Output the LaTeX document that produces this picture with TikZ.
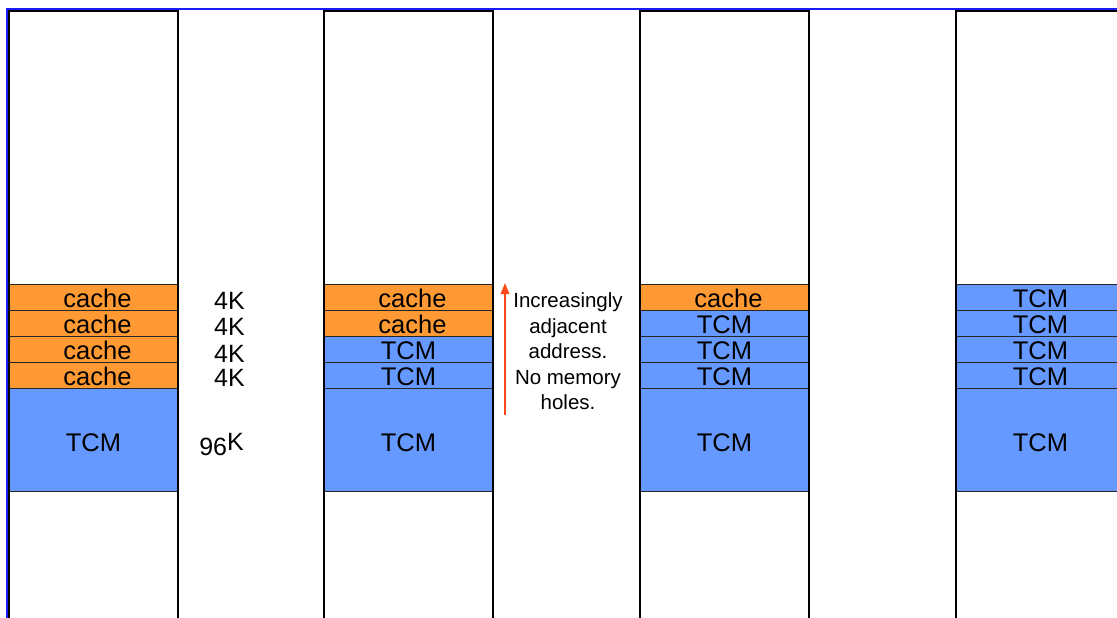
\documentclass[tikz,border=0pt]{standalone}
\usepackage{fontspec}
\setmainfont{Liberation Sans}
\usetikzlibrary{arrows.meta,calc}
\definecolor{cacheorange}{HTML}{FF9933}
\definecolor{tcmblue}{HTML}{6699FF}
\definecolor{frameblue}{HTML}{1A1AFF}
\definecolor{arrowred}{HTML}{FF4A1A}
\tikzset{
  rowbox/.style={draw=black!85, line width=0.9pt, minimum width=169pt, minimum height=26pt, inner sep=0pt, outer sep=0pt, anchor=north west},
  bigbox/.style={rowbox, minimum height=103pt},
  cachebox/.style={rowbox, fill=cacheorange},
  tcmbox/.style={rowbox, fill=tcmblue},
  tcmbig/.style={bigbox, fill=tcmblue},
  lbl/.style={inner sep=0pt, anchor=base, font=\fontsize{25.5}{30}\selectfont},
  sizelbl/.style={inner sep=0pt, anchor=base east, font=\fontsize{25}{28}\selectfont},
  colline/.style={draw=black, line width=2pt},
  noteline/.style={inner sep=0pt, align=center, font=\fontsize{20.5}{25.5}\selectfont},
}
\begin{document}
\begin{tikzpicture}[x=1pt,y=-1pt]
\useasboundingbox (0,0) rectangle (1117,618);
\clip (0,0) rectangle (1117,618);
\fill[white] (0,0) rectangle (1117,618);
% blue frame
\draw[frameblue, line width=2pt] (7,640) -- (7,9.5) -- (1130,9.5);
% column 1
\node[cachebox] (a1) at (9,284) {};
\node[cachebox] (a2) at (9,310) {};
\node[cachebox] (a3) at (9,336) {};
\node[cachebox] (a4) at (9,362) {};
\node[tcmbig]   (a5) at (9,388) {};
% column 2
\node[cachebox] (b1) at (324,284) {};
\node[cachebox] (b2) at (324,310) {};
\node[tcmbox]   (b3) at (324,336) {};
\node[tcmbox]   (b4) at (324,362) {};
\node[tcmbig]   (b5) at (324,388) {};
% column 3
\node[cachebox] (c1) at (640,284) {};
\node[tcmbox]   (c2) at (640,310) {};
\node[tcmbox]   (c3) at (640,336) {};
\node[tcmbox]   (c4) at (640,362) {};
\node[tcmbig]   (c5) at (640,388) {};
% column 4
\node[tcmbox]   (d1) at (956,284) {};
\node[tcmbox]   (d2) at (956,310) {};
\node[tcmbox]   (d3) at (956,336) {};
\node[tcmbox]   (d4) at (956,362) {};
\node[tcmbig]   (d5) at (956,388) {};
% labels
\foreach \n/\t in {a1/cache,a2/cache,a3/cache,a4/cache,b1/cache,b2/cache,c1/cache}{
  \node[lbl] (\n t) at ($(\n.south)+(4,-2.5)$) {\t};
}
\foreach \n in {b3,b4,c2,c3,c4,d1,d2,d3,d4}{
  \node[lbl] (\n t) at ($(\n.south)+(0,-2.5)$) {TCM};
}
\foreach \n in {a5,b5,c5,d5}{
  \node[lbl] (\n t) at ($(\n.center)+(0,12)$) {TCM};
}
% column outlines
\draw[colline] (9,11) rectangle (178,640);
\draw[colline] (324,11) rectangle (493,640);
\draw[colline] (640,11) rectangle (809,640);
\draw[colline] (956,11) rectangle (1126,640);
% sizes
\node[sizelbl] (k1) at (245,309) {4K};
\node[sizelbl] (k2) at (245,335) {4K};
\node[sizelbl] (k3) at (245,362) {4K};
\node[sizelbl] (k4) at (245,386) {4K};
\node[sizelbl] (k5) at (244,450) {\raisebox{-5pt}{96}K};
% arrow and note
\coordinate (arrS) at (505,415);
\coordinate (arrE) at (505,283);
\draw[arrowred, line width=1.8pt, -{Triangle[length=11pt,width=8.5pt]}] (arrS) -- (arrE);
\node[noteline, anchor=north] (note) at (568,292.5) {Increasingly\\adjacent\\address.\\No memory\\holes.};
\end{tikzpicture}
\end{document}
